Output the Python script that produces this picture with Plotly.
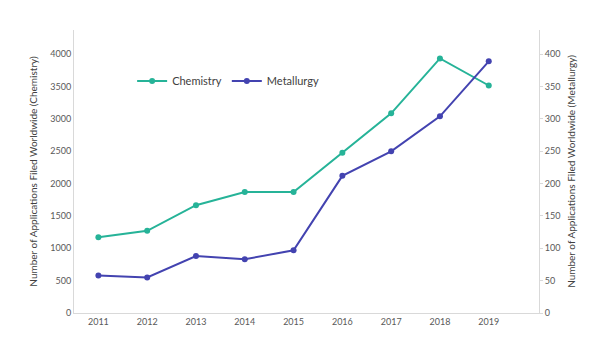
import plotly.graph_objects as go

years = [2011, 2012, 2013, 2014, 2015, 2016, 2017, 2018, 2019]
chemistry = [1170, 1270, 1666, 1869, 1869, 2476, 3087, 3935, 3517]
metallurgy = [58, 55, 88, 83, 97, 212, 250, 304, 389]

teal = "#26B398"
blue = "#4343B0"
font_family = "Lato, 'Open Sans', sans-serif"

fig = go.Figure()
fig.add_trace(go.Scatter(
    x=years, y=chemistry, name="Chemistry", mode="lines+markers",
    line=dict(color=teal, width=2), marker=dict(color=teal, size=6),
    yaxis="y"))
fig.add_trace(go.Scatter(
    x=years, y=metallurgy, name="Metallurgy", mode="lines+markers",
    line=dict(color=blue, width=2), marker=dict(color=blue, size=6),
    yaxis="y2"))

fig.update_layout(
    width=593, height=362,
    margin=dict(l=66, r=62, t=22, b=57, autoexpand=False),
    paper_bgcolor="white", plot_bgcolor="white",
    font=dict(family=font_family, size=9, color="#595959"),
    showlegend=True,
    legend=dict(orientation="h", x=0.125, y=0.82, xanchor="left", yanchor="middle",
                font=dict(size=11, color="#404040"), bgcolor="rgba(0,0,0,0)"),
    xaxis=dict(range=[2010.5, 2020.03], tickmode="array", tickvals=years,
               ticktext=[str(y) for y in years], showgrid=False, zeroline=False,
               showline=True, linecolor="#D9D9D9", linewidth=1, ticks="",
               automargin=False, tickfont=dict(size=9, color="#595959")),
    yaxis=dict(range=[0, 4375], tickmode="array",
               tickvals=[0, 500, 1000, 1500, 2000, 2500, 3000, 3500, 4000],
               showgrid=False, zeroline=False, showline=True, linecolor="#D9D9D9",
               ticks="", automargin=False,
               title=dict(text="Number of Applications Filed Worldwide (Chemistry)",
                          font=dict(size=10, color="#404040"), standoff=10),
               tickfont=dict(size=9, color="#595959")),
    yaxis2=dict(range=[0, 437.5], overlaying="y", side="right", anchor="x",
                tickmode="array", tickvals=[0, 50, 100, 150, 200, 250, 300, 350, 400],
                showgrid=False, zeroline=False, showline=True, linecolor="#D9D9D9",
                ticks="outside", ticklen=3, tickcolor="#D9D9D9", automargin=False,
                title=dict(text="Number of Applications Filed Worldwide (Metallurgy)",
                           font=dict(size=10, color="#404040"), standoff=8),
                tickfont=dict(size=9, color="#595959")),
)

fig.write_html("out.html")
